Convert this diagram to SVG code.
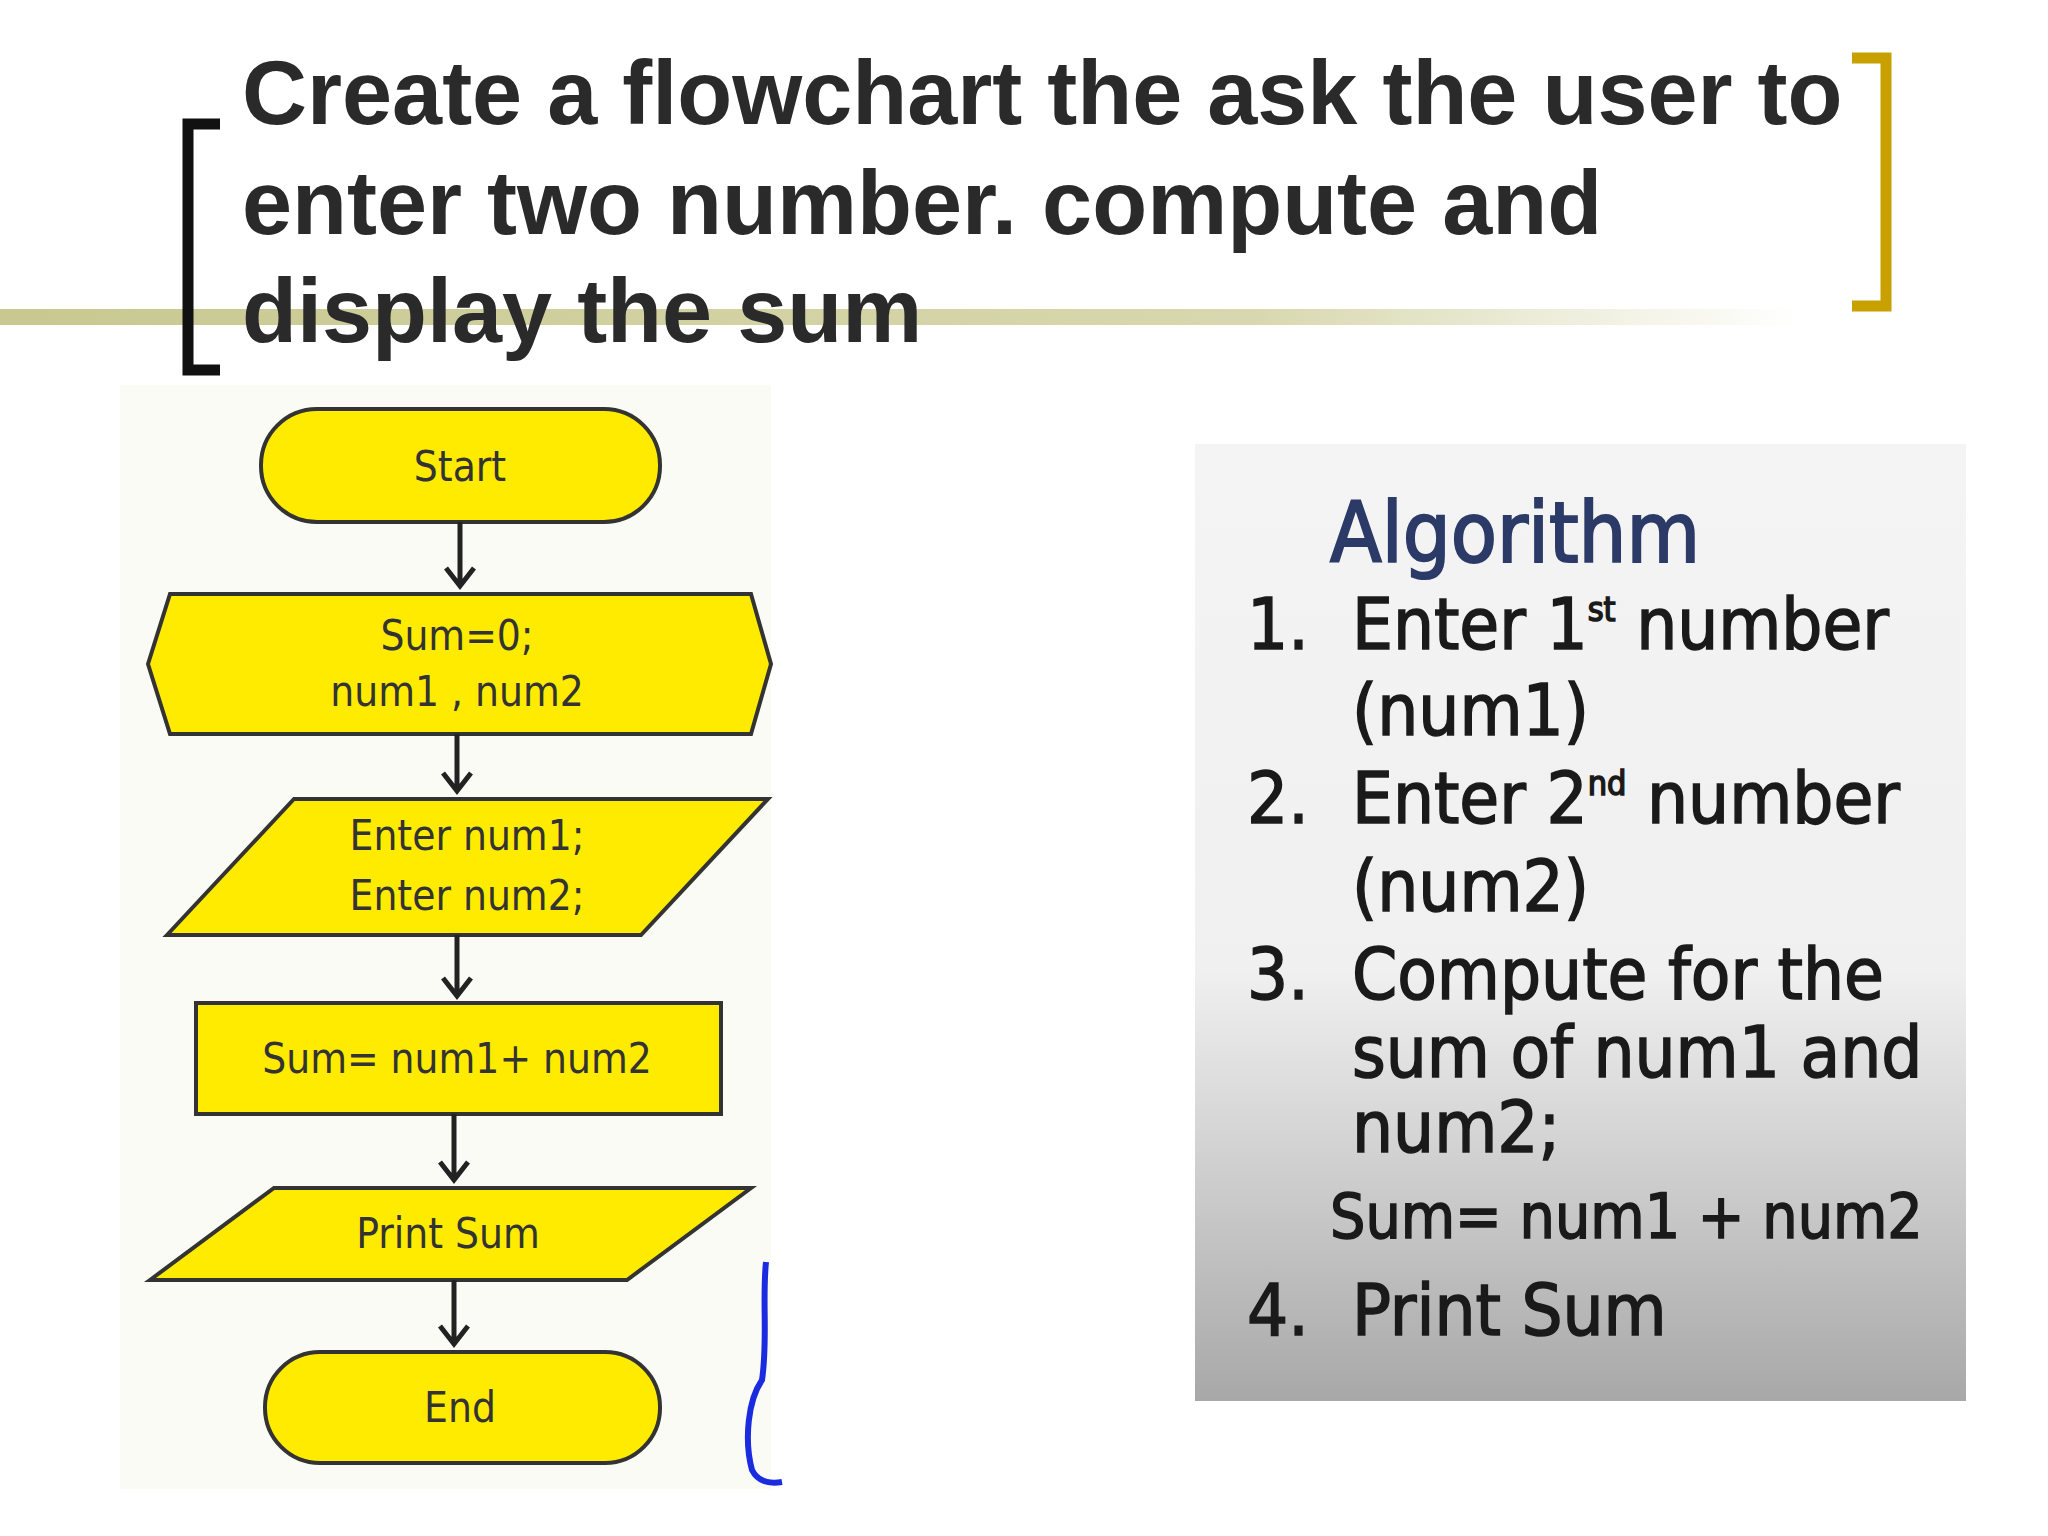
<svg xmlns="http://www.w3.org/2000/svg" width="2048" height="1536" viewBox="0 0 2048 1536">
<defs>
<linearGradient id="gl" x1="0" x2="1" y1="0" y2="0"><stop offset="0" stop-color="#c8c890"/><stop offset="0.7" stop-color="#d8d8b0"/><stop offset="1" stop-color="#ffffff"/></linearGradient>
<linearGradient id="gp" x1="0" x2="0" y1="0" y2="1"><stop offset="0" stop-color="#f4f4f4"/><stop offset="0.55" stop-color="#f0f0f0"/><stop offset="1" stop-color="#a8a8a8"/></linearGradient>
<style>
.t{font-family:"Liberation Sans",Arial,sans-serif;font-weight:bold;font-size:90px;fill:#2a2a2a}
.s{fill:#ffeb00;stroke:#333;stroke-width:4}
.f{font-family:"DejaVu Sans Condensed","DejaVu Sans",sans-serif;font-size:42px;fill:#333;text-anchor:middle}
.a{font-family:"Liberation Sans Narrow","DejaVu Sans Condensed",sans-serif;font-size:72px;fill:#1a1a1a;stroke:#1a1a1a;stroke-width:1.5}
.c{stroke:#222;stroke-width:5;fill:none}
</style>
</defs>
<rect width="2048" height="1536" fill="#fff"/>
<rect x="0" y="309" width="1800" height="16" fill="url(#gl)"/>
<path d="M220,124 H188 V370 H220" fill="none" stroke="#111" stroke-width="11"/>
<path d="M1852,58 H1886 V306 H1852" fill="none" stroke="#c8a000" stroke-width="11"/>
<text class="t" x="242" y="124">Create a flowchart the ask the user to</text>
<text class="t" x="242" y="234">enter two number. compute and</text>
<text class="t" x="242" y="342">display the sum</text>
<rect x="120" y="385" width="651" height="1104" fill="#fbfbf5"/>
<g id="start"><rect class="s" x="261" y="409" width="399" height="113" rx="56"/><text class="f" x="460" y="481">Start</text></g>
<g id="init"><polygon class="s" points="148,664 170,594 751,594 771,664 751,734 170,734"/><text class="f" x="457" y="650">Sum=0;</text><text class="f" x="457" y="706">num1 , num2</text></g>
<g id="input"><polygon class="s" points="167,935 294,799 768,799 641,935"/><text class="f" x="467" y="850">Enter num1;</text><text class="f" x="467" y="910">Enter num2;</text></g>
<g id="proc"><rect class="s" x="196" y="1003" width="525" height="111"/><text class="f" x="457" y="1073">Sum= num1+ num2</text></g>
<g id="print"><polygon class="s" points="150,1280 274,1188 751,1188 627,1280"/><text class="f" x="448" y="1248">Print  Sum</text></g>
<g id="end"><rect class="s" x="265" y="1352" width="395" height="111" rx="55"/><text class="f" x="460" y="1422">End</text></g>
<g id="connectors">
<path class="c" d="M460,522 V586 M446,568 L460,586 L474,568"/>
<path class="c" d="M457,734 V791 M443,773 L457,791 L471,773"/>
<path class="c" d="M457,935 V996 M443,978 L457,996 L471,978"/>
<path class="c" d="M454,1114 V1180 M440,1162 L454,1180 L468,1162"/>
<path class="c" d="M454,1280 V1344 M440,1326 L454,1344 L468,1326"/>
</g>
<path d="M766,1262 C762,1300 768,1340 762,1380 C748,1400 744,1440 752,1470 C758,1482 770,1484 782,1482" fill="none" stroke="#1a2be0" stroke-width="6"/>
<rect x="1195" y="444" width="771" height="957" fill="url(#gp)"/>
<text x="1330" y="562" font-family="'Liberation Sans Narrow','DejaVu Sans Condensed',sans-serif" font-size="84" fill="#2b3a67" stroke="#2b3a67" stroke-width="2">Algorithm</text>
<g class="a">
<text x="1247" y="649">1.</text><text x="1352" y="649">Enter 1<tspan font-size="34" dy="-28">st</tspan><tspan dy="28"> number</tspan></text>
<text x="1352" y="735">(num1)</text>
<text x="1247" y="823">2.</text><text x="1352" y="823">Enter 2<tspan font-size="34" dy="-28">nd</tspan><tspan dy="28"> number</tspan></text>
<text x="1352" y="911">(num2)</text>
<text x="1247" y="999">3.</text><text x="1352" y="999">Compute for the</text>
<text x="1352" y="1077">sum of num1 and</text>
<text x="1352" y="1152">num2;</text>
<text x="1330" y="1238" font-size="62">Sum= num1 + num2</text>
<text x="1247" y="1335">4.</text><text x="1352" y="1335">Print Sum</text>
</g>
</svg>
